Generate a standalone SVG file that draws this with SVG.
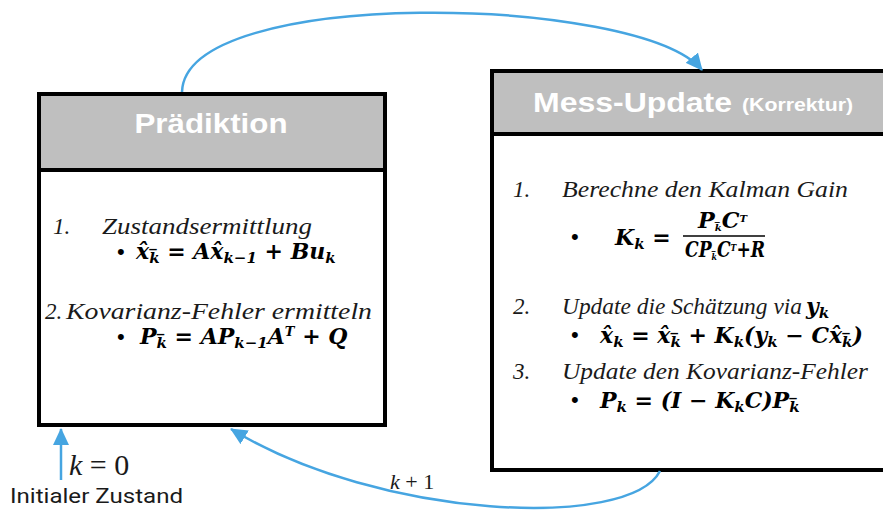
<svg xmlns="http://www.w3.org/2000/svg" width="883" height="512" viewBox="0 0 883 512">
  <defs>
    <marker id="arrow" markerUnits="userSpaceOnUse" markerWidth="18" markerHeight="16" refX="16" refY="8" orient="auto">
      <path d="M0,0 L17,8 L0,16 Z" fill="#46a5e1"/>
    </marker>
    <style>
      .box { fill: #ffffff; stroke: #000000; stroke-width: 4; }
      .head { fill: #bfbfbf; stroke: #000000; stroke-width: 4; }
      .title { font-family: "Liberation Sans", Arial, sans-serif; font-weight: bold; fill: #ffffff; }
      .item { font-family: "Liberation Serif", serif; font-style: italic; font-size: 23px; fill: #1a1a1a; }
      .m { font-family: "DejaVu Serif", "Liberation Serif", serif; font-style: italic; font-weight: bold; font-size: 22px; fill: #000000; }
      .sub { font-size: 15px; }
      .bul { font-family: "Liberation Sans", Arial, sans-serif; font-size: 22px; fill: #000000; }
      .conn { fill: none; stroke: #46a5e1; stroke-width: 2.5; marker-end: url(#arrow); }
      .lbl { font-family: "Liberation Serif", serif; fill: #1a1a1a; }
    </style>
  </defs>

  <!-- Prediction step -->
  <g id="praediktion">
    <rect class="box" x="39" y="94" width="346" height="331"/>
    <rect class="head" x="39" y="94" width="346" height="76"/>
    <text class="title" x="211" y="133" font-size="28" text-anchor="middle" textLength="153" lengthAdjust="spacingAndGlyphs">Prädiktion</text>
    <text class="item" x="53" y="234">1.</text>
    <text class="item" x="102" y="234" textLength="210" lengthAdjust="spacingAndGlyphs">Zustandsermittlung</text>
    <text class="bul" x="117" y="259">•</text>
    <text class="m" x="136" y="259">x̂<tspan class="sub" dy="4">k̅</tspan><tspan dy="-4"> = Ax̂</tspan><tspan class="sub" dy="4">k−1</tspan><tspan dy="-4"> + Bu</tspan><tspan class="sub" dy="4">k</tspan></text>
    <text class="item" x="45" y="319">2.</text>
    <text class="item" x="66" y="319" textLength="306" lengthAdjust="spacingAndGlyphs">Kovarianz-Fehler ermitteln</text>
    <text class="bul" x="117" y="344">•</text>
    <text class="m" x="140" y="344">P<tspan class="sub" dy="4">k̅</tspan><tspan dy="-4"> = AP</tspan><tspan class="sub" dy="4">k−1</tspan><tspan dy="-4">A</tspan><tspan font-size="13" dy="-8">T</tspan><tspan dy="8"> + Q</tspan></text>
  </g>

  <!-- Measurement update step -->
  <g id="mess-update">
    <rect class="box" x="492" y="71" width="410" height="399"/>
    <rect class="head" x="492" y="71" width="410" height="63"/>
    <text class="title" x="533" y="112" font-size="28" textLength="199" lengthAdjust="spacingAndGlyphs">Mess-Update</text>
    <text class="title" x="742" y="111" font-size="18" textLength="111" lengthAdjust="spacingAndGlyphs">(Korrektur)</text>

    <text class="item" x="513" y="197">1.</text>
    <text class="item" x="562" y="197" textLength="286" lengthAdjust="spacingAndGlyphs">Berechne den Kalman Gain</text>
    <text class="bul" x="571" y="244">•</text>
    <text class="m" x="615" y="245">K<tspan class="sub" dy="4">k</tspan><tspan dy="-4"> =</tspan></text>
    <!-- Kalman gain fraction -->
    <text class="m" x="698" y="228" font-size="15" textLength="49" lengthAdjust="spacingAndGlyphs">P<tspan font-size="10" dy="3">k̅</tspan><tspan dy="-3">C</tspan><tspan font-size="10" dy="-6">T</tspan></text>
    <line x1="683" y1="236" x2="765" y2="236" stroke="#000000" stroke-width="1.5"/>
    <text class="m" x="685" y="257" font-size="15" textLength="80" lengthAdjust="spacingAndGlyphs">CP<tspan font-size="10" dy="3">k̅</tspan><tspan dy="-3">C</tspan><tspan font-size="10" dy="-6">T</tspan><tspan dy="6">+R</tspan></text>

    <text class="item" x="513" y="314">2.</text>
    <text class="item" x="562" y="314" textLength="240" lengthAdjust="spacingAndGlyphs">Update die Schätzung via</text>
    <text class="m" x="806" y="314">y<tspan class="sub" dy="4">k</tspan></text>
    <text class="bul" x="571" y="342">•</text>
    <text class="m" x="600" y="343">x̂<tspan class="sub" dy="4">k</tspan><tspan dy="-4"> = x̂</tspan><tspan class="sub" dy="4">k̅</tspan><tspan dy="-4"> + K</tspan><tspan class="sub" dy="4">k</tspan><tspan dy="-4">(y</tspan><tspan class="sub" dy="4">k</tspan><tspan dy="-4"> − Cx̂</tspan><tspan class="sub" dy="4">k̅</tspan><tspan dy="-4">)</tspan></text>

    <text class="item" x="513" y="379">3.</text>
    <text class="item" x="562" y="379" textLength="306" lengthAdjust="spacingAndGlyphs">Update den Kovarianz-Fehler</text>
    <text class="bul" x="571" y="407">•</text>
    <text class="m" x="600" y="408">P<tspan class="sub" dy="4">k</tspan><tspan dy="-4"> = (I − K</tspan><tspan class="sub" dy="4">k</tspan><tspan dy="-4">C)P</tspan><tspan class="sub" dy="4">k̅</tspan></text>
  </g>

  <!-- Loop connectors -->
  <g id="connectors">
    <path class="conn" d="M182,92 C185,-15 640,-5 702,70"/>
    <path class="conn" d="M660,471 C630,530 380,520 231,429"/>
    <path class="conn" d="M61,480 L61,429"/>
    <text class="lbl" x="390" y="489" font-size="22"><tspan font-style="italic">k</tspan> + 1</text>
    <text class="lbl" x="69" y="475" font-size="30"><tspan font-style="italic">k</tspan> = 0</text>
    <text x="10" y="503" font-family="Roboto, 'Liberation Sans', sans-serif" font-size="20" fill="#1a1a1a" textLength="173" lengthAdjust="spacingAndGlyphs">Initialer Zustand</text>
  </g>
</svg>
